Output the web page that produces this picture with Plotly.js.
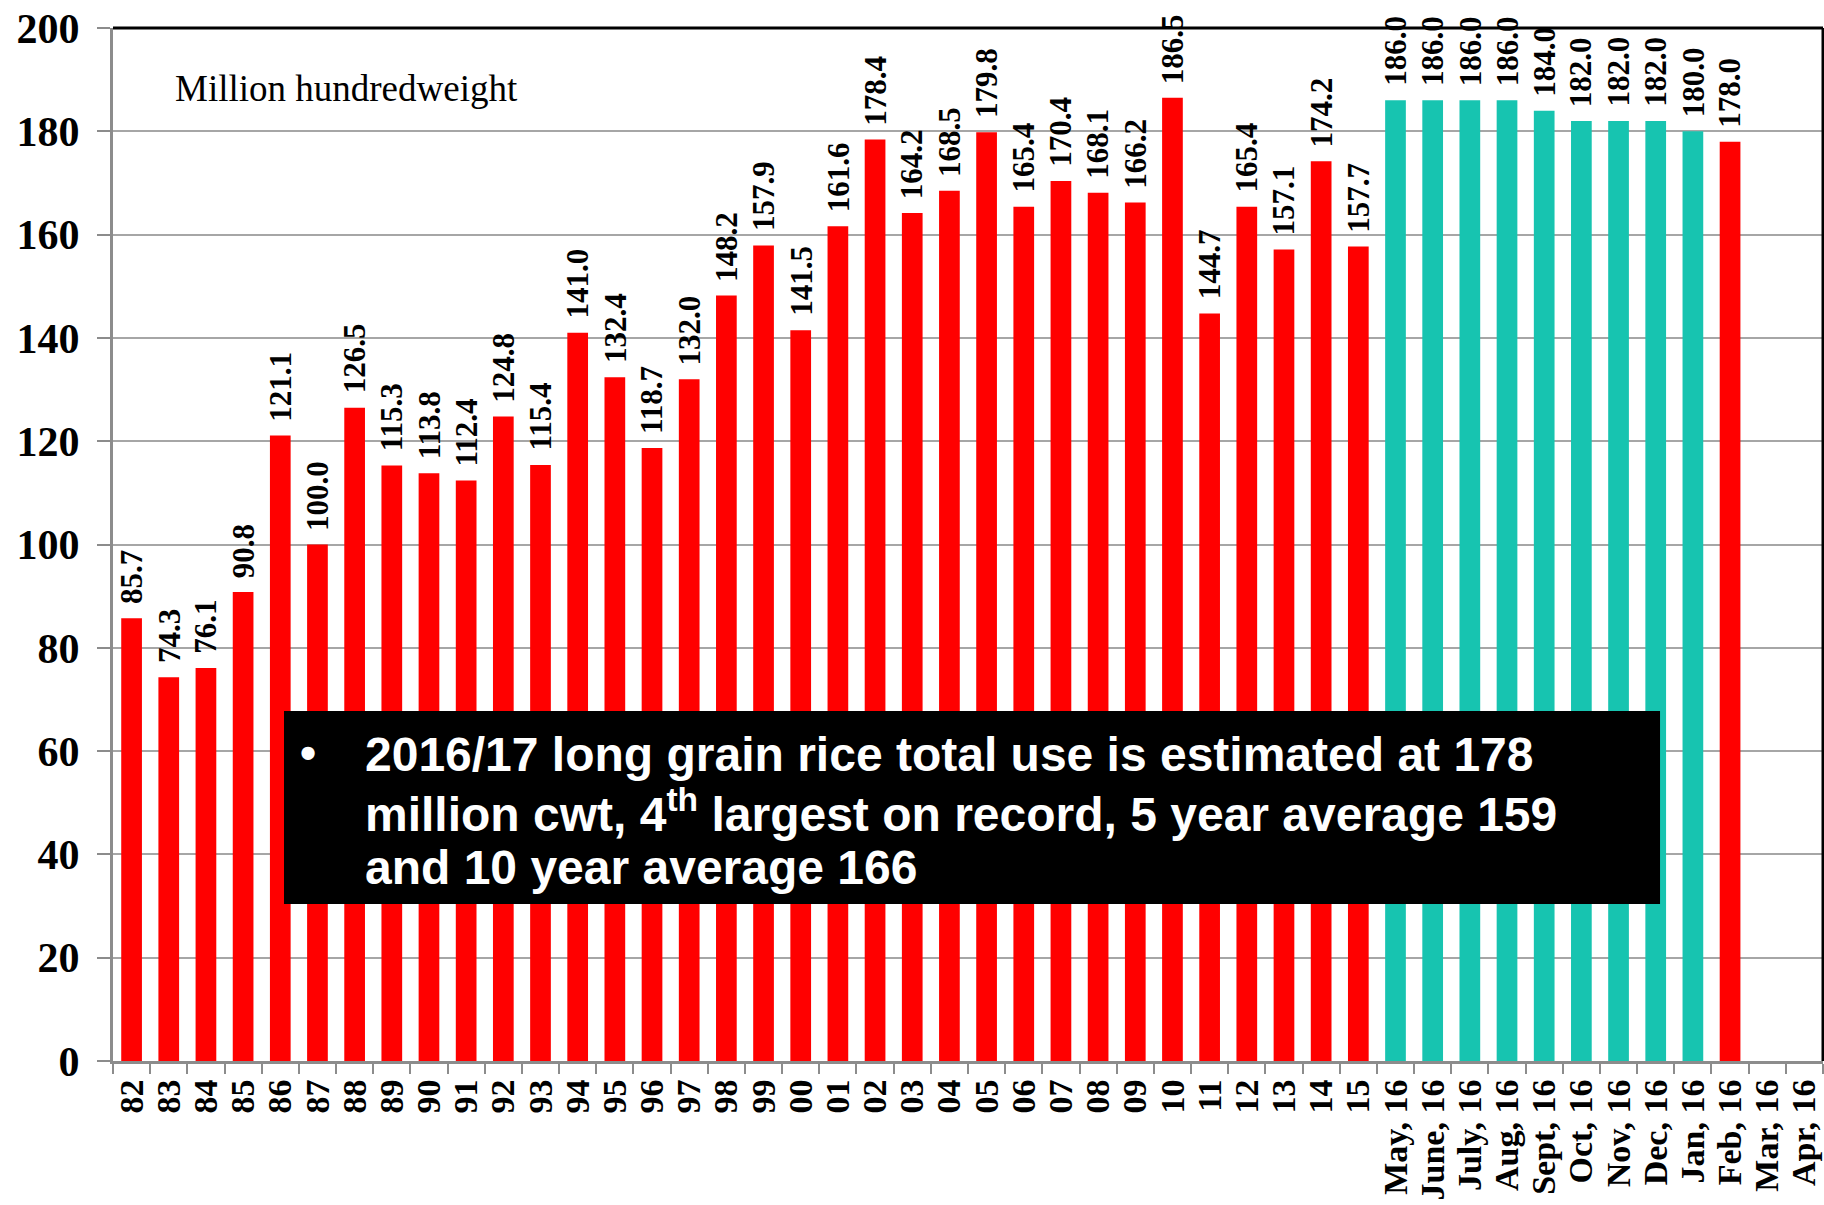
<!DOCTYPE html>
<html>
<head>
<meta charset="utf-8">
<script src="https://cdn.plot.ly/plotly-3.0.1.min.js"></script>
<style>
  html, body { margin: 0; padding: 0; background: #ffffff; }
  #graph { width: 1824px; height: 1205px; }
</style>
</head>
<body>
<div id="graph"></div>
<script>
// marketing years, million cwt
const years = ['82', '83', '84', '85', '86', '87', '88', '89', '90', '91',
    '92', '93', '94', '95', '96', '97', '98', '99', '00', '01',
    '02', '03', '04', '05', '06', '07', '08', '09', '10', '11',
    '12', '13', '14', '15'];
const year_values = [85.7, 74.3, 76.1, 90.8, 121.1, 100.0, 126.5, 115.3, 113.8, 112.4,
    124.8, 115.4, 141.0, 132.4, 118.7, 132.0, 148.2, 157.9, 141.5, 161.6,
    178.4, 164.2, 168.5, 179.8, 165.4, 170.4, 168.1, 166.2, 186.5, 144.7,
    165.4, 157.1, 174.2, 157.7];

// monthly WASDE estimates for 2016/17
const months = ['May, 16', 'June, 16', 'July, 16', 'Aug, 16', 'Sept, 16', 'Oct, 16',
    'Nov, 16', 'Dec, 16', 'Jan, 16', 'Feb, 16', 'Mar, 16', 'Apr, 16'];
const month_values = [186.0, 186.0, 186.0, 186.0, 184.0, 182.0,
    182.0, 182.0, 180.0, 178.0, null, null];

const note_lines = [
    '2016/17 long grain rice total use is estimated at 178',
    'million cwt, 4<sup>th</sup> largest on record, 5 year average 159',
    'and 10 year average 166'
];

function plot_use() {
    let categories = years.concat(months);
    let values = year_values.concat(month_values);

    // last available monthly estimate is shown in red like the history
    let last_month = -1;
    month_values.forEach((v, i) => { if (v !== null) last_month = i; });
    let colors = categories.map((c, i) => {
        if (i < years.length) return '#FF0000';
        return (i - years.length) === last_month ? '#FF0000' : '#17C4B0';
    });

    let trace = {
        x: categories,
        y: values,
        type: 'bar',
        marker: { color: colors, line: { width: 0 } },
        hoverinfo: 'x+y',
        cliponaxis: false
    };

    let serif = 'Liberation Serif, Times New Roman, serif';
    let annotations = [];
    values.forEach((v, i) => {
        if (v === null) return;
        // category axis: position by index, "82" would be read as index 82
        annotations.push({
            x: i,
            y: v,
            xref: 'x',
            yref: 'y',
            text: v.toFixed(1),
            textangle: -90,
            showarrow: false,
            xanchor: 'center',
            yanchor: 'bottom',
            yshift: 12,
            font: { family: serif, size: 31, color: '#000000', weight: 'bold' }
        });
    });

    annotations.push({
        x: 0.035, y: 0.941, xref: 'paper', yref: 'paper',
        text: 'Million hundredweight',
        showarrow: false, xanchor: 'left', yanchor: 'middle',
        font: { family: serif, size: 37, color: '#000000' }
    });

    let sans = 'Liberation Sans, Arial, sans-serif';
    annotations.push({
        x: 0.114, y: 0.298, xref: 'paper', yref: 'paper',
        text: '•', showarrow: false, xanchor: 'center', yanchor: 'middle',
        font: { family: sans, size: 46, color: '#ffffff', weight: 'bold' }
    });
    let line_y = [0.297, 0.242, 0.187];
    note_lines.forEach((t, i) => {
        annotations.push({
            x: 0.146, y: line_y[i], xref: 'paper', yref: 'paper',
            text: t, showarrow: false, xanchor: 'left', yanchor: 'middle',
            font: { family: sans, size: 48, color: '#ffffff', weight: 'bold' }
        });
    });

    let layout = {
        width: 1824,
        height: 1205,
        margin: { l: 113, r: 1, t: 28, b: 144 },
        paper_bgcolor: '#ffffff',
        plot_bgcolor: '#ffffff',
        showlegend: false,
        bargap: 0.443,
        xaxis: {
            type: 'category',
            categoryorder: 'array',
            categoryarray: categories,
            range: [-0.5, categories.length - 0.5],
            tickmode: 'linear',
            tick0: 0,
            dtick: 1,
            showline: true,
            linecolor: '#8C8C8C',
            linewidth: 3,
            ticks: 'outside',
            tickson: 'boundaries',
            ticklen: 10,
            tickwidth: 2,
            tickcolor: '#8C8C8C',
            tickangle: -90,
            ticklabelstandoff: 2,
            showgrid: false,
            tickfont: { family: serif, size: 34, color: '#000000', weight: 'bold' },
            automargin: false
        },
        yaxis: {
            range: [0, 200],
            dtick: 20,
            showline: true,
            linecolor: '#8C8C8C',
            linewidth: 3,
            ticks: 'outside',
            ticklen: 13,
            tickwidth: 2,
            tickcolor: '#8C8C8C',
            ticklabelstandoff: 9,
            gridcolor: '#A6A6A6',
            gridwidth: 2,
            zeroline: false,
            tickfont: { family: serif, size: 42, color: '#000000', weight: 'bold' },
            automargin: false
        },
        shapes: [
            { type: 'line', xref: 'paper', yref: 'paper', x0: 0, x1: 1, y0: 1, y1: 1,
              line: { color: '#000000', width: 3 }, layer: 'above' },
            { type: 'line', xref: 'paper', yref: 'paper', x0: 1, x1: 1, y0: 0, y1: 1,
              line: { color: '#000000', width: 3 }, layer: 'above' },
            { type: 'rect', xref: 'paper', yref: 'paper', x0: 0.1, x1: 0.9047, y0: 0.152, y1: 0.3388,
              fillcolor: '#000000', line: { width: 0 }, layer: 'above' }
        ],
        annotations: annotations
    };

    Plotly.newPlot('graph', [trace], layout, { displayModeBar: false, staticPlot: true });
}

plot_use();
</script>
</body>
</html>
